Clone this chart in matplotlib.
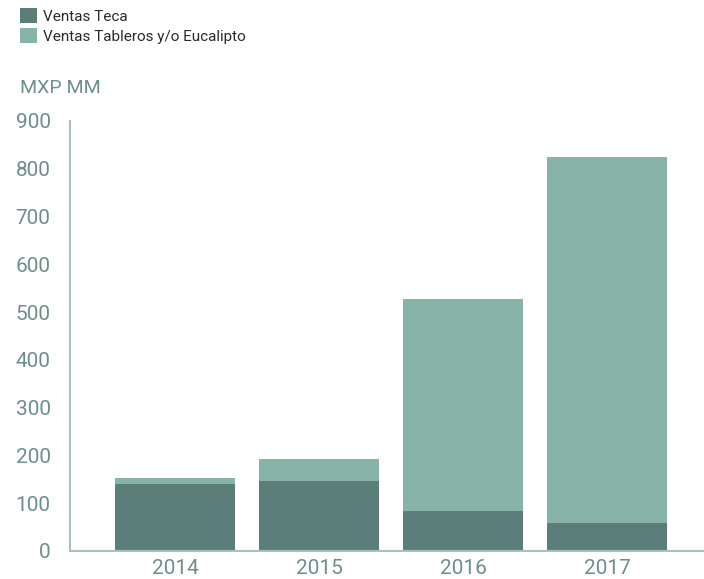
import matplotlib
matplotlib.use("Agg")
import matplotlib.pyplot as plt
from matplotlib.patches import Patch

years = ["2014", "2015", "2016", "2017"]
teca = [141, 146, 84, 59]
tableros = [12, 46, 443, 765]
series_labels = ["Ventas Teca", "Ventas Tableros y/o Eucalipto"]
unit_label = "MXP MM"
yticks = [0, 100, 200, 300, 400, 500, 600, 700, 800, 900]

c_dark = "#5c7e79"
c_light = "#87b3a9"
c_text = "#6d8f89"
c_axis = "#a8bfbb"

plt.rcParams['font.family'] = ['Roboto', 'DejaVu Sans']

fig = plt.figure(figsize=(7.04, 5.79), dpi=100)
W, H = 704, 579
ax = fig.add_axes([70 / W, (H - 551) / H, (W - 70) / W, (551 - 121) / H])

x = list(range(len(years)))
ax.bar(x, teca, width=0.833, color=c_dark, edgecolor="none")
ax.bar(x, tableros, width=0.833, bottom=teca, color=c_light, edgecolor="none")

ax.set_ylim(0, 900)
ax.set_xlim(-0.729, 3.674)
ax.set_yticks(yticks)
ax.set_xticks(x)
ax.set_xticklabels(years)
for s in ["top", "right"]:
    ax.spines[s].set_visible(False)
for s in ["left", "bottom"]:
    ax.spines[s].set_color(c_axis)
    ax.spines[s].set_linewidth(1.5)
ax.tick_params(axis="both", length=0, colors=c_text, labelsize=15)
ax.tick_params(axis="y", pad=14)
ax.tick_params(axis="x", pad=6)
for lab in ax.get_yticklabels() + ax.get_xticklabels():
    lab.set_fontweight("normal")

fig.text(20 / W, 1 - 88 / H, unit_label, color=c_text, fontsize=14,
         fontweight="normal", va="center", ha="left")

handles = [Patch(facecolor=c_dark, edgecolor="none"),
           Patch(facecolor=c_light, edgecolor="none")]
leg = fig.legend(handles, series_labels, loc="upper left",
                 bbox_to_anchor=(14 / W, 1 - 2 / H), frameon=False,
                 fontsize=11, handlelength=1.1, handleheight=1.1,
                 handletextpad=0.4, labelspacing=0.3, borderaxespad=0)
for t in leg.get_texts():
    t.set_color("#2a2a2a")

fig.savefig("out.png", dpi=100)
